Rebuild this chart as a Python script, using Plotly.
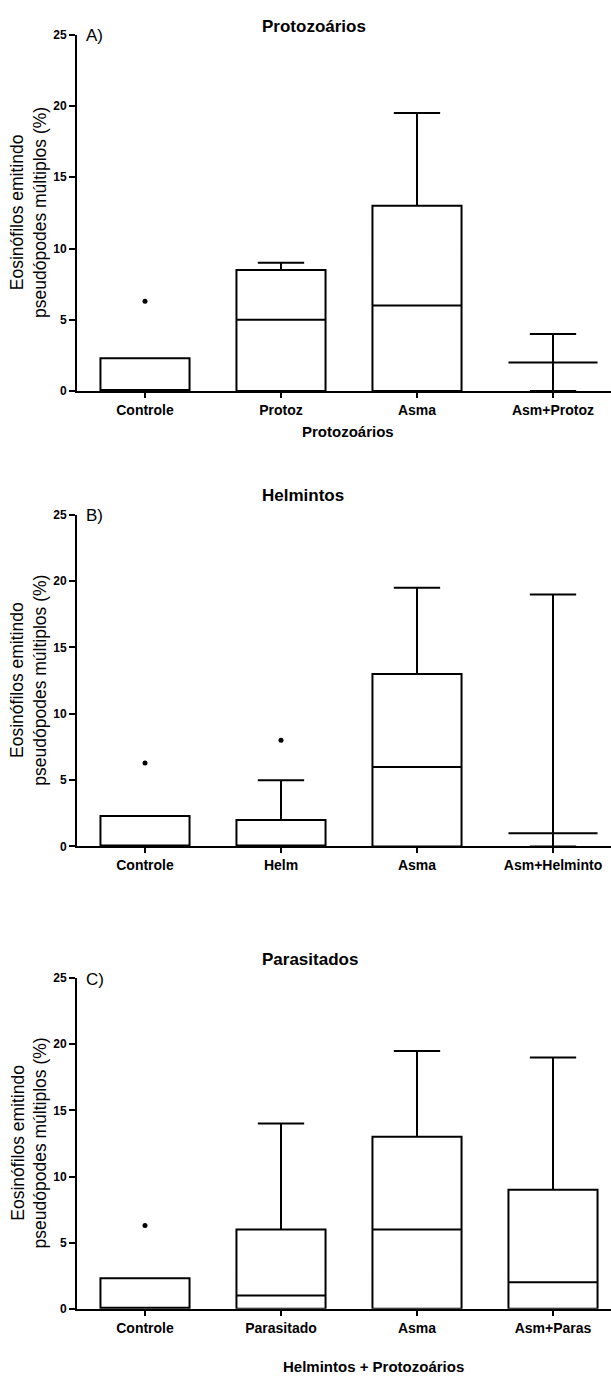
import plotly.graph_objects as go

W, H = 611, 1393
FONT = "Liberation Sans, Arial, sans-serif"

# ---- data ------------------------------------------------------------
cats_a = ["Controle", "Protoz", "Asma", "Asm+Protoz"]
q1_a = [0, 0, 0, 2]
med_a = [0, 5, 6, 2]
q3_a = [2.3, 8.5, 13, 2]
lo_a = [0, 0, 0, 0]
hi_a = [2.3, 9, 19.5, 4]
out_cat_a = ["Controle"]
out_val_a = [6.3]

cats_b = ["Controle", "Helm", "Asma", "Asm+Helminto"]
q1_b = [0, 0, 0, 1]
med_b = [0, 0, 6, 1]
q3_b = [2.3, 2, 13, 1]
lo_b = [0, 0, 0, 0]
hi_b = [2.3, 5, 19.5, 19]
out_cat_b = ["Controle", "Helm"]
out_val_b = [6.3, 8]

cats_c = ["Controle", "Parasitado", "Asma", "Asm+Paras"]
q1_c = [0, 0, 0, 0]
med_c = [0, 1, 6, 2]
q3_c = [2.3, 6, 13, 9]
lo_c = [0, 0, 0, 0]
hi_c = [2.3, 14, 19.5, 19]
out_cat_c = ["Controle"]
out_val_c = [6.3]

titles = ["Protozoários", "Helmintos", "Parasitados"]
letters = ["A)", "B)", "C)"]
x_titles = ["Protozoários", "", "Helmintos + Protozoários"]
y_title = "Eosinófilos emitindo<br>pseudópodes múltiplos (%)"
y_ticks = [0, 5, 10, 15, 20, 25]

panels = [
    (cats_a, q1_a, med_a, q3_a, lo_a, hi_a, out_cat_a, out_val_a),
    (cats_b, q1_b, med_b, q3_b, lo_b, hi_b, out_cat_b, out_val_b),
    (cats_c, q1_c, med_c, q3_c, lo_c, hi_c, out_cat_c, out_val_c),
]

# ---- layout geometry (pixels) ----------------------------------------
x_left, x_right = 77, 611
cat_step = 136.0
panel_px = [(28, 388), (513, 848), (981, 1315)]  # (y=25 edge, y=0 edge)
title_gap = [8, 20, 19]                          # title centre above y=25 edge
xtitle_pos = [(348, 41), None, (373, 58)]        # (centre x, offset below axis)


def px_x(p):
    return p / W


def px_y(p):
    return 1 - p / H


fig = go.Figure()
layout = dict(
    width=W, height=H,
    margin=dict(l=0, r=0, t=0, b=0),
    paper_bgcolor="white", plot_bgcolor="white",
    showlegend=False,
    font=dict(family=FONT, color="black"),
    annotations=[],
)

x_range = [-0.5, -0.5 + (x_right - x_left) / cat_step]

for i, (cats, q1, med, q3, lo, hi, oc, ov) in enumerate(panels):
    sfx = "" if i == 0 else str(i + 1)
    xa, ya = "x" + sfx, "y" + sfx
    top, bot = panel_px[i]

    for j, c in enumerate(cats):
        fig.add_trace(go.Box(
            x=[c], q1=[q1[j]], median=[med[j]], q3=[q3[j]],
            lowerfence=[lo[j]], upperfence=[hi[j]],
            width=0.655, whiskerwidth=0.52,
            fillcolor="white", line=dict(color="black", width=2),
            boxpoints=False, hoverinfo="skip",
            xaxis=xa, yaxis=ya,
        ))
    fig.add_trace(go.Scatter(
        x=oc, y=ov, mode="markers",
        marker=dict(color="black", size=5),
        xaxis=xa, yaxis=ya, hoverinfo="skip",
    ))

    layout["xaxis" + sfx] = dict(
        domain=[px_x(x_left), px_x(x_right)],
        anchor=ya, type="category", categoryorder="array", categoryarray=cats,
        range=x_range, showgrid=False, zeroline=False,
        showline=True, linecolor="black", linewidth=2,
        ticks="outside", ticklen=5, tickwidth=2, tickcolor="black",
        tickfont=dict(family=FONT, size=14, color="black", weight="bold"),
    )
    layout["yaxis" + sfx] = dict(
        domain=[px_y(bot), px_y(top)],
        anchor=xa, range=[0, 25], tickvals=y_ticks,
        showgrid=False, zeroline=False,
        showline=True, linecolor="black", linewidth=2,
        ticks="outside", ticklen=6, tickwidth=2, tickcolor="black",
        tickfont=dict(family=FONT, size=12, color="black", weight="bold"),
    )

    # panel title
    layout["annotations"].append(dict(
        text="<b>" + titles[i] + "</b>", x=px_x(260), y=px_y(top - title_gap[i]),
        xref="paper", yref="paper", xanchor="left", yanchor="middle",
        showarrow=False, font=dict(family=FONT, size=17, color="black"),
    ))
    # panel letter
    layout["annotations"].append(dict(
        text=letters[i], x=px_x(84), y=px_y(top + 1),
        xref="paper", yref="paper", xanchor="left", yanchor="middle",
        showarrow=False, font=dict(family=FONT, size=17, color="black"),
    ))
    # y-axis title
    layout["annotations"].append(dict(
        text=y_title, x=px_x(29), y=px_y((top + bot) / 2),
        xref="paper", yref="paper", xanchor="center", yanchor="middle",
        textangle=-90, showarrow=False,
        font=dict(family=FONT, size=17.5, color="black"),
    ))
    # x-axis title
    if xtitle_pos[i]:
        cx, off = xtitle_pos[i]
        layout["annotations"].append(dict(
            text="<b>" + x_titles[i] + "</b>", x=px_x(cx), y=px_y(bot + off),
            xref="paper", yref="paper", xanchor="center", yanchor="middle",
            showarrow=False, font=dict(family=FONT, size=15, color="black"),
        ))

fig.update_layout(**layout)
fig.write_html("out.html")
